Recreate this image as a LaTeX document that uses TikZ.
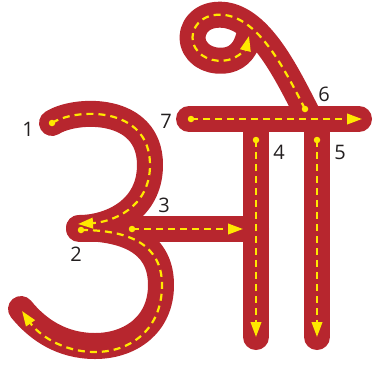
\documentclass[tikz,border=0pt]{standalone}
\usepackage{fontspec}
\setmainfont{Open Sans}
\usetikzlibrary{arrows.meta}
\definecolor{strokered}{RGB}{183,38,46}
\definecolor{guideyellow}{RGB}{255,232,0}
\definecolor{labelgray}{RGB}{35,31,32}
\tikzset{
  band/.style={draw=strokered, line width=26pt, line cap=round, line join=round},
  guide/.style={draw=guideyellow, line width=2.2pt, dash pattern=on 7pt off 5pt,
    -{Triangle[length=15pt,width=10.5pt,fill=guideyellow]}},
  startdot/.style={circle, fill=guideyellow, inner sep=0pt, minimum size=6.5pt},
  num/.style={text=labelgray, font=\fontsize{20}{24}\selectfont, inner sep=0pt}
}
\begin{document}
\begin{tikzpicture}[x=1pt,y=-1pt]
\useasboundingbox (0,0) rectangle (375,368);
% ---------- red strokes ----------
% upper bowl of the "3"
\draw[band] (52,123) .. controls (75,108) and (150,105) .. (150,165)
            .. controls (150,210) and (110,228) .. (79,228);
% lower bowl
\draw[band] (79,228) .. controls (130,228) and (161,245) .. (161,285)
            .. controls (161,325) and (130,346) .. (95,346)
            .. controls (62,346) and (38,330) .. (21,309);
% horizontal link (3)
\draw[band] (79,229) -- (256,229);
% top bar (7)
\draw[band] (189,119) -- (359,119);
% stems (4),(5)
\draw[band] (256,119) -- (256,337);
\draw[band] (317,119) -- (317,337);
% loop (6)
\draw[band] (310,119) -- (305,109) .. controls (285,70) and (260,20) .. (225,15)
            .. controls (200,12) and (190,30) .. (193,42)
            .. controls (197,58) and (215,63) .. (228,60)
            .. controls (240,57) and (246,48) .. (249,36);
% ---------- start points ----------
\node[startdot] (p1) at (52,123) {};
\node[startdot] (p2) at (81,230) {};
\node[startdot] (p3) at (132,229) {};
\node[startdot] (p4) at (256,140) {};
\node[startdot] (p5) at (317,140) {};
\node[startdot] (p6) at (305,109) {};
\node[startdot] (p7) at (191,119) {};
\coordinate (e1) at (78,224);
\coordinate (e2) at (22,311);
\coordinate (e3) at (243,229);
\coordinate (e4) at (256,337);
\coordinate (e5) at (317,337);
\coordinate (e6) at (249,36);
\coordinate (e7) at (362,119);
% ---------- yellow guides ----------
\draw[guide] (p1.center) .. controls (75,108) and (150,105) .. (150,165)
            .. controls (150,208) and (112,222) .. (e1);
\draw[guide] (p2.center) .. controls (130,230) and (162,245) .. (162,285)
            .. controls (162,330) and (130,352) .. (95,352)
            .. controls (62,352) and (38,334) .. (e2);
\draw[guide] (p3.center) -- (e3);
\draw[guide] (p4.center) -- (e4);
\draw[guide] (p5.center) -- (e5);
\draw[guide] (p7.center) -- (e7);
\draw[guide] (p6.center) .. controls (285,70) and (260,20) .. (225,15)
            .. controls (200,12) and (190,30) .. (193,42)
            .. controls (197,58) and (215,63) .. (228,60)
            .. controls (240,57) and (246,48) .. (e6);
% ---------- numbers ----------
\node[num] (n1) at (28,129) {1};
\node[num] (n2) at (76,254) {2};
\node[num] (n3) at (164,205) {3};
\node[num] (n4) at (279,152) {4};
\node[num] (n5) at (340,152) {5};
\node[num] (n6) at (324,94) {6};
\node[num] (n7) at (166,121) {7};
\end{tikzpicture}
\end{document}
